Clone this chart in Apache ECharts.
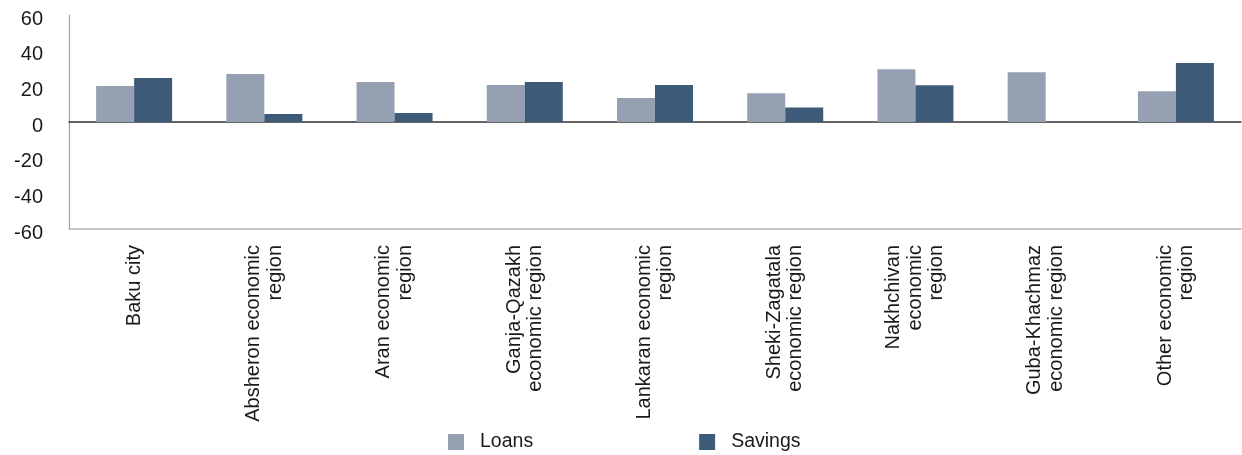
<!DOCTYPE html>
<html>
<head>
<meta charset="utf-8">
<script src="https://cdn.jsdelivr.net/npm/echarts@6/dist/echarts.min.js"></script>
<style>
html,body{margin:0;padding:0;background:#fff;}
#chart{width:1242px;height:455px;}
</style>
</head>
<body>
<div id="chart"></div>
<script>
const categories = [
  "Baku city",
  "Absheron economic\nregion",
  "Aran economic\nregion",
  "Ganja-Qazakh\neconomic region",
  "Lankaran economic\nregion",
  "Sheki-Zagatala\neconomic region",
  "Nakhchivan\neconomic\nregion",
  "Guba-Khachmaz\neconomic region",
  "Other economic\nregion"
];
const loans   = [20.2, 26.9, 22.4, 20.7, 13.5, 16.1, 29.6, 27.9, 17.2];
const savings = [24.7, 4.5, 5.0, 22.4, 20.7, 8.2, 20.6, 0, 33.1];
const yMin = -60, yMax = 60, yStep = 20;

const FONT = "'Liberation Sans', Arial, sans-serif";
const chart = echarts.init(document.getElementById('chart'), null, {renderer: 'canvas'});
chart.setOption({
  animation: false,
  backgroundColor: '#ffffff',
  color: ['#95a1b2', '#3d5b78'],
  textStyle: {fontFamily: FONT},
  grid: {left: 69, right: 1, top: 15, bottom: 226, containLabel: false},
  legend: {
    data: ['Loans', 'Savings'],
    left: 443, top: 427,
    itemWidth: 16, itemHeight: 16, itemGap: 166,
    icon: 'rect',
    textStyle: {fontFamily: FONT, fontSize: 19.5, color: '#1a1a1a', padding: [0, 0, 0, 11]}
  },
  xAxis: [{
    type: 'category',
    data: categories,
    position: 'bottom',
    axisLine: {onZero: false, lineStyle: {color: '#b4b4b4', width: 1.5}},
    axisTick: {show: false},
    axisLabel: {
      interval: 0, rotate: 90, margin: 16,
      fontFamily: FONT, fontSize: 20, lineHeight: 21.5, color: '#1a1a1a'
    }
  }, {
    type: 'category',
    data: categories,
    position: 'bottom',
    axisLine: {onZero: true, lineStyle: {color: '#333333', width: 1.5}},
    axisTick: {show: false},
    axisLabel: {show: false}
  }],
  yAxis: {
    type: 'value',
    min: yMin, max: yMax, interval: yStep,
    axisLine: {show: true, lineStyle: {color: '#a0a0a0', width: 1.2}},
    axisTick: {show: false},
    splitLine: {show: false},
    axisLabel: {
      margin: 26, fontFamily: FONT, fontSize: 20, color: '#1a1a1a',
      verticalAlign: 'top', lineHeight: 8
    }
  },
  series: [{
    name: 'Loans', type: 'bar', data: loans,
    xAxisIndex: 0, barWidth: 38, barGap: '0%', z: 1
  }, {
    name: 'Savings', type: 'bar', data: savings,
    xAxisIndex: 0, barWidth: 38, barGap: '0%', z: 1
  }]
});
</script>
</body>
</html>
